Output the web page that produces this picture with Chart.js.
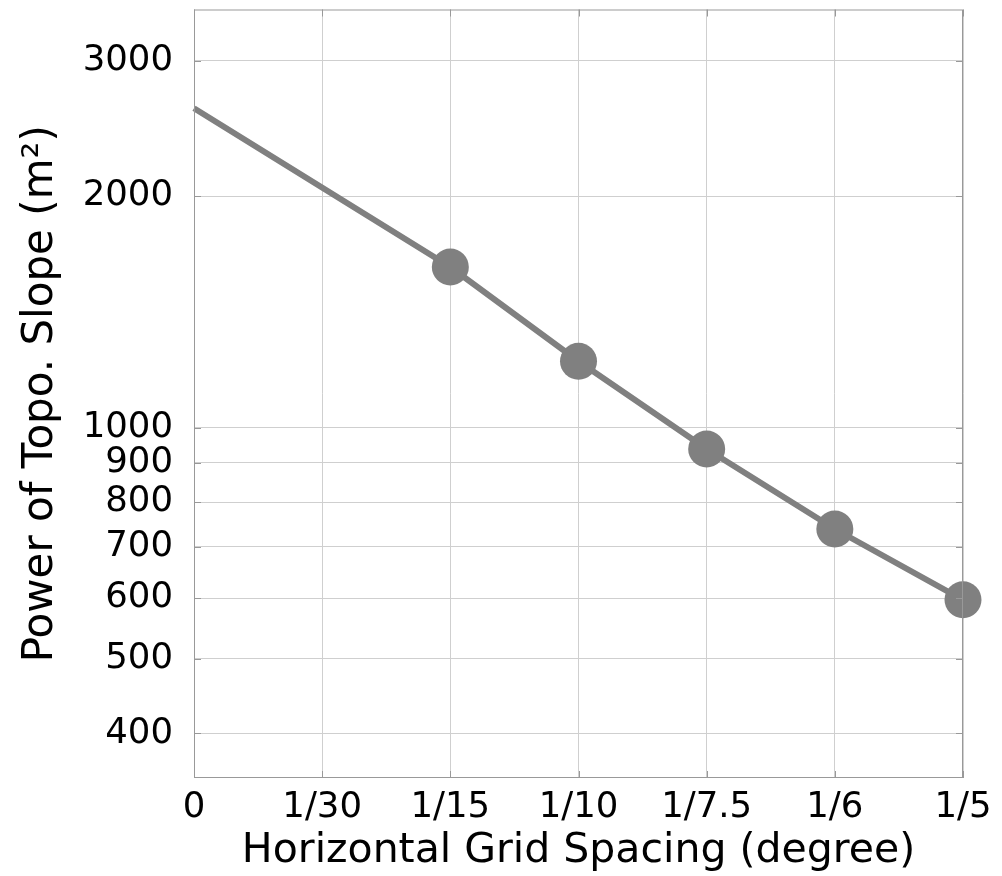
<!DOCTYPE html>
<html>
<head>
<meta charset="utf-8">
<script src="https://cdn.jsdelivr.net/npm/chart.js@4.4.0/dist/chart.umd.min.js"></script>
<style>
  html, body { margin: 0; padding: 0; background: #fff; }
  #wrap { width: 1002px; height: 876px; }
</style>
</head>
<body>
<div id="wrap"><canvas id="slopeChart"></canvas></div>
<script>
// x positions are grid spacings in degree, labelled as fractions
const xTickValues = [0, 1/30, 1/15, 1/10, 1/7.5, 1/6, 1/5];
const xTickLabels = ['0', '1/30', '1/15', '1/10', '1/7.5', '1/6', '1/5'];
const yTickValues = [400, 500, 600, 700, 800, 900, 1000, 2000, 3000];

// line runs from x=0 (no marker) through the measured points
const spacing = [0, 1/15, 1/10, 1/7.5, 1/6, 1/5];
const power = [2604, 1618, 1220, 938, 738, 597];

const FONT = "'DejaVu Sans', sans-serif";
const GRAY = '#808080';

// frame + inward tick marks on all four sides
const framePlugin = {
	id: 'frame',
	afterDatasetsDraw(chart) {
		const c = chart.ctx, a = chart.chartArea;
		const xs = chart.scales.x, ys = chart.scales.y;
		c.save();
		c.strokeStyle = '#999';
		c.lineWidth = 1;
		c.strokeRect(a.left + 0.5, a.top + 0.5, a.right - a.left - 1, a.bottom - a.top - 1);
		c.beginPath();
		xTickValues.forEach(v => {
			const px = Math.round(xs.getPixelForValue(v)) + 0.5;
			c.moveTo(px, a.bottom); c.lineTo(px, a.bottom - 7);
			c.moveTo(px, a.top); c.lineTo(px, a.top + 7);
		});
		yTickValues.forEach(v => {
			const py = Math.round(ys.getPixelForValue(v)) + 0.5;
			c.moveTo(a.left, py); c.lineTo(a.left + 7, py);
			c.moveTo(a.right, py); c.lineTo(a.right - 7, py);
		});
		c.stroke();
		c.restore();
	}
};

var ctx = document.getElementById('slopeChart').getContext('2d');

var chart = new Chart(ctx, {
	type: 'line',
	data: {
		datasets: [{
			label: 'Power',
			data: spacing.map((x, i) => ({ x: x, y: power[i] })),
			borderColor: GRAY,
			backgroundColor: GRAY,
			borderWidth: 6,
			pointRadius: c => c.dataIndex === 0 ? 0 : 18.5,
			pointHoverRadius: c => c.dataIndex === 0 ? 0 : 18.5,
			pointBorderWidth: 0,
			pointBackgroundColor: GRAY,
			fill: false,
			tension: 0,
			clip: false
		}]
	},
	options: {
		responsive: true,
		maintainAspectRatio: false,
		animation: false,
		layout: { autoPadding: false, padding: { top: 9.5, right: 39, left: 0, bottom: 0 } },
		plugins: {
			legend: { display: false },
			tooltip: { enabled: false }
		},
		scales: {
			x: {
				type: 'linear',
				min: 0,
				max: 0.2,
				afterBuildTicks: s => { s.ticks = xTickValues.map(v => ({ value: v })); },
				afterFit: s => { s.height = 98; s.paddingLeft = 0; s.paddingRight = 0; },
				ticks: {
					autoSkip: false,
					maxRotation: 0,
					padding: 8,
					color: '#000',
					font: { family: FONT, size: 35.5 },
					callback: (v, i) => xTickLabels[i]
				},
				grid: {
					color: '#cfcfcf',
					borderDash: [2, 2],
					drawTicks: false
				},
				border: { display: false },
				title: {
					display: true,
					text: 'Horizontal Grid Spacing (degree)',
					color: '#000',
					font: { family: FONT, size: 41 },
					padding: { top: 0, bottom: 0 }
				}
			},
			y: {
				type: 'logarithmic',
				min: 350,
				max: 3500,
				afterBuildTicks: s => { s.ticks = yTickValues.map(v => ({ value: v })); },
				afterFit: s => { s.width = 194; s.paddingTop = 0; s.paddingBottom = 0; },
				ticks: {
					autoSkip: false,
					padding: 21,
					color: '#000',
					font: { family: FONT, size: 35.5 },
					callback: v => String(v)
				},
				grid: {
					color: '#cfcfcf',
					borderDash: [2, 2],
					drawTicks: false
				},
				border: { display: false },
				title: {
					display: true,
					text: 'Power of Topo. Slope (m²)',
					color: '#000',
					font: { family: FONT, size: 42 },
					padding: { top: 16, bottom: 0 }
				}
			}
		}
	},
	plugins: [framePlugin]
});
</script>
</body>
</html>
